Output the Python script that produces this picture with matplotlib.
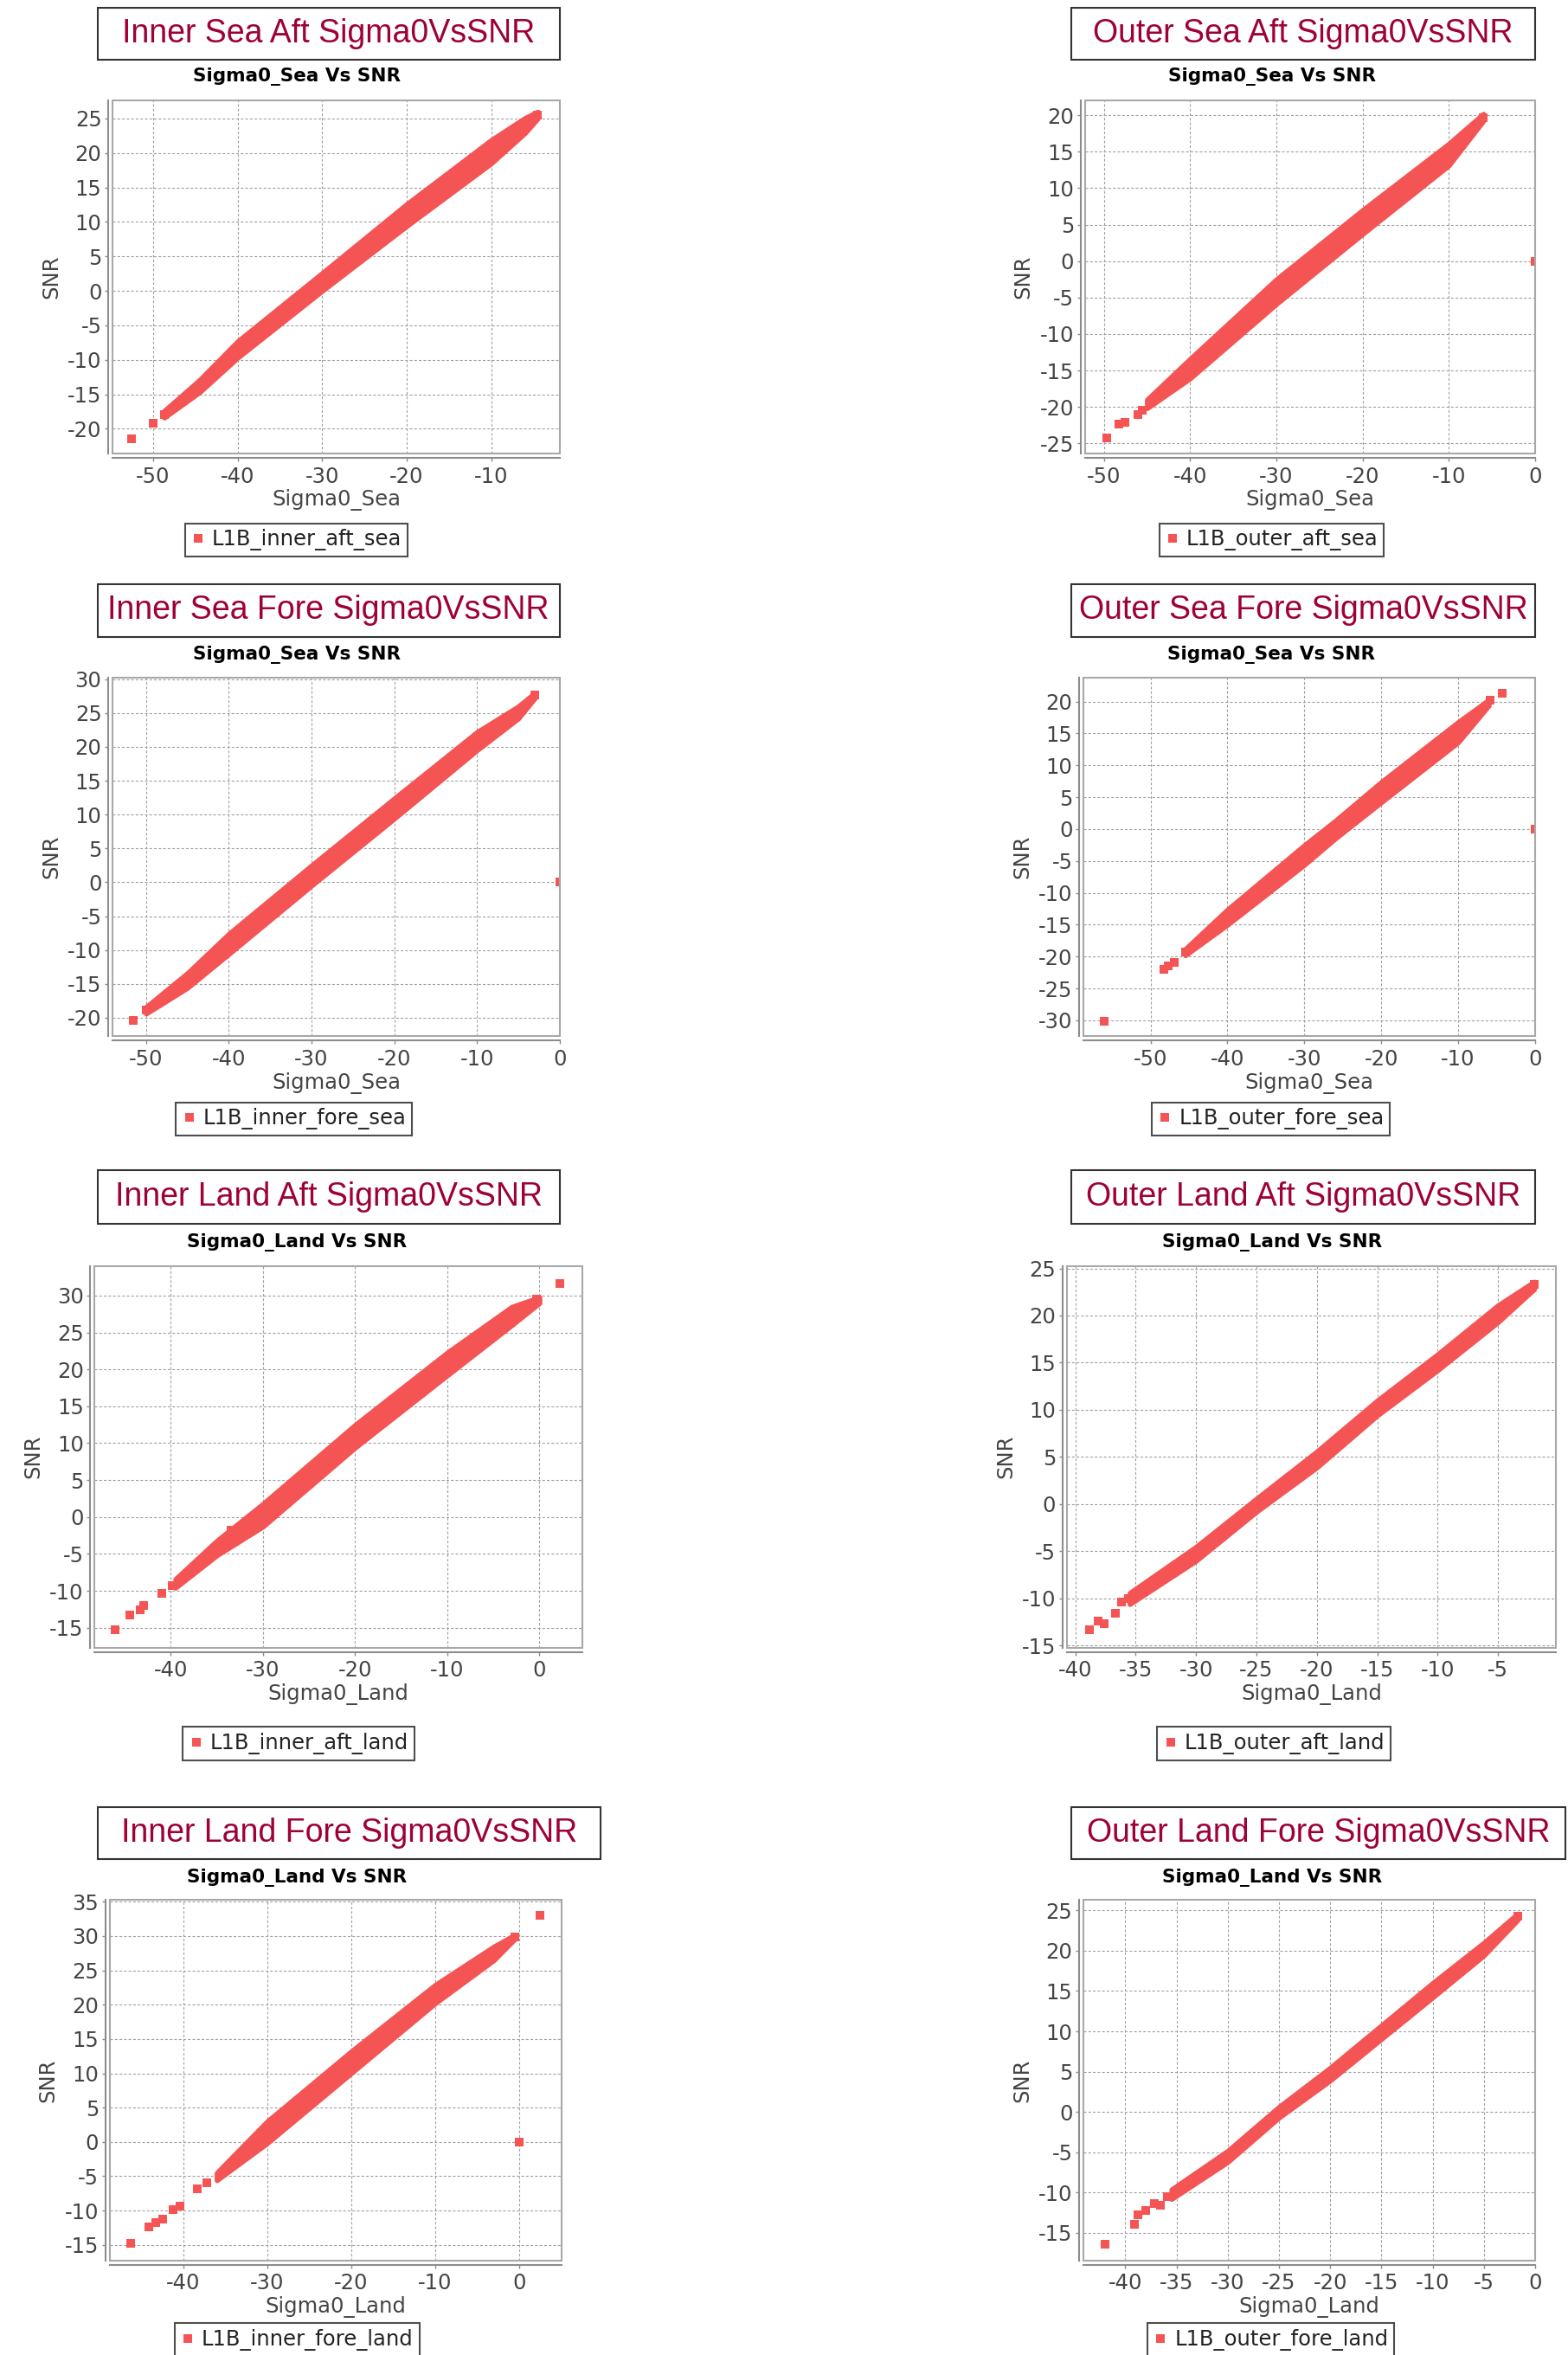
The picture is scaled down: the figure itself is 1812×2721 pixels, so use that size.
import matplotlib
matplotlib.use('Agg')
import matplotlib.pyplot as plt
from matplotlib.patches import Rectangle
from matplotlib.lines import Line2D

plt.rcParams['axes.unicode_minus'] = False
plt.rcParams['lines.scale_dashes'] = False

# ---- data (band edges + isolated points) ----

# Inner Sea Aft
ias_band_x = [-48.7, -44.5, -40, -30, -20, -10, -6, -4.5]
ias_band_hi = [-17.4, -12.9, -7.3, 2.6, 12.6, 21.9, 25.1, 26.0]
ias_band_lo = [-18.4, -14.7, -9.7, 0.0, 9.4, 18.5, 22.9, 25.0]
ias_pts_x = [-52.6, -50.0, -48.7, -4.5]
ias_pts_y = [-21.5, -19.2, -17.9, 25.5]

# Outer Sea Aft
osa_band_x = [-45, -40, -30, -20, -10, -6]
osa_band_hi = [-19.0, -13.4, -2.5, 7.0, 16.1, 20.2]
osa_band_lo = [-20.2, -16.1, -5.9, 3.7, 13.1, 19.2]
osa_pts_x = [-49.7, -48.3, -47.6, -46.0, -45.5, -6.0, 0.0]
osa_pts_y = [-24.2, -22.4, -22.1, -21.1, -20.5, 19.7, 0.0]

# Inner Sea Fore
isf_band_x = [-50, -45, -40, -30, -20, -10, -5, -3]
isf_band_hi = [-18.4, -13.4, -7.6, 2.5, 12.4, 22.2, 26.0, 28.0]
isf_band_lo = [-19.4, -15.6, -10.6, -0.5, 9.4, 19.5, 24.2, 27.2]
isf_pts_x = [-51.5, -50.0, -3.0, 0.0]
isf_pts_y = [-20.4, -18.9, 27.7, 0.0]

# Outer Sea Fore
osf_band_x = [-45.5, -40, -30, -26, -20, -10, -6]
osf_band_hi = [-18.8, -12.6, -2.5, 1.3, 7.4, 16.8, 20.3]
osf_band_lo = [-19.8, -15.0, -5.6, -1.5, 4.2, 13.6, 19.4]
osf_pts_x = [-56.0, -48.3, -47.7, -46.9, -45.5, -5.8, -4.3, 0.0]
osf_pts_y = [-30.1, -22.0, -21.5, -20.9, -19.3, 20.2, 21.3, 0.0]

# Inner Land Aft
ila_band_x = [-39.5, -35, -30, -20, -10, -3, 0]
ila_band_hi = [-8.4, -3.2, 1.8, 12.5, 22.3, 28.5, 29.8]
ila_band_lo = [-9.6, -5.2, -1.3, 9.4, 19.2, 26.0, 29.0]
ila_pts_x = [2.2, -46.0, -44.4, -43.3, -42.9, -41.0, -39.8, -36.0, -33.5, -0.3]
ila_pts_y = [31.6, -15.3, -13.3, -12.6, -12.0, -10.3, -9.3, -5.3, -1.8, 29.5]

# Outer Land Aft
ola_band_x = [-35.5, -30, -25, -20, -15, -10, -5, -2]
ola_band_hi = [-9.4, -4.5, 0.6, 5.6, 11.0, 15.9, 21.1, 23.6]
ola_band_lo = [-10.6, -6.0, -0.8, 3.9, 9.4, 14.2, 19.3, 22.8]
ola_pts_x = [-38.8, -38.1, -37.6, -36.7, -36.2, -35.6, -2.0]
ola_pts_y = [-13.3, -12.4, -12.7, -11.6, -10.4, -10.0, 23.3]

# Inner Land Fore
ilf_band_x = [-36, -30, -20, -10, -3, -0.5]
ilf_band_hi = [-4.5, 3.0, 13.2, 22.9, 28.5, 30.2]
ilf_band_lo = [-5.6, -0.2, 10.0, 20.2, 26.5, 29.6]
ilf_pts_x = [2.5, 0.0, -46.2, -44.1, -43.2, -42.4, -41.2, -40.4, -38.3, -37.2, -0.5]
ilf_pts_y = [33.0, 0.0, -14.8, -12.4, -11.8, -11.2, -9.8, -9.3, -6.8, -6.0, 29.9]

# Outer Land Fore
olf_band_x = [-35.5, -30, -25, -20, -10, -5, -1.7]
olf_band_hi = [-9.6, -4.8, 0.65, 5.5, 16.0, 21.0, 24.6]
olf_band_lo = [-10.8, -6.2, -0.7, 3.9, 14.2, 19.4, 23.8]
olf_pts_x = [-42.0, -39.1, -38.8, -38.0, -37.2, -36.6, -35.9, -1.65]
olf_pts_y = [-16.4, -13.9, -12.7, -12.2, -11.3, -11.6, -10.5, 24.3]

titles = ['Inner Sea Aft Sigma0VsSNR', 'Outer Sea Aft Sigma0VsSNR',
          'Inner Sea Fore Sigma0VsSNR', 'Outer Sea Fore Sigma0VsSNR',
          'Inner Land Aft Sigma0VsSNR', 'Outer Land Aft Sigma0VsSNR',
          'Inner Land Fore Sigma0VsSNR', 'Outer Land Fore Sigma0VsSNR']
legend_labels = ['L1B_inner_aft_sea', 'L1B_outer_aft_sea',
                 'L1B_inner_fore_sea', 'L1B_outer_fore_sea',
                 'L1B_inner_aft_land', 'L1B_outer_aft_land',
                 'L1B_inner_fore_land', 'L1B_outer_fore_land']
surface = ['Sea', 'Sea', 'Sea', 'Sea', 'Land', 'Land', 'Land', 'Land']

x_ticks = [range(-50, -9, 10), range(-50, 1, 10), range(-50, 1, 10), range(-50, 1, 10),
           range(-40, 1, 10), range(-40, -4, 5), range(-40, 1, 10), range(-40, 1, 5)]
y_ticks = [range(-20, 26, 5), range(-25, 21, 5), range(-20, 31, 5), range(-30, 21, 5),
           range(-15, 31, 5), range(-15, 26, 5), range(-15, 36, 5), range(-15, 26, 5)]

# ---- layout (in reference units, 1045 x 1568) ----
W, H = 1045.0, 1568.0
RED = '#F55454'
TITLE_RED = '#9E0038'
GRID = '#a0a0a0'
AXIS = '#8c8c8c'
TEXT = '#444444'

xlims = [(-54.8, -1.9), (-52.2, 0), (-54.05, 0), (-58.75, 0),
         (-48.27, 4.63), (-40.7, -0.2), (-48.75, 5.0), (-44.1, 0)]
ylims = [(-23.6, 27.6), (-26.4, 22.0), (-22.75, 30.27), (-32.5, 23.8),
         (-17.7, 34.0), (-15.2, 25.24), (-17.26, 35.27), (-18.4, 26.3)]
boxes = [(65, 5, 373, 40), (714, 5, 1023, 40), (65, 389, 373, 424), (714, 389, 1023, 424),
         (65, 779, 373, 815), (714, 779, 1023, 815), (65, 1203, 400, 1238), (714, 1203, 1043, 1238)]
subs = [(198, 51), (848, 51), (198, 436), (847, 436),
        (198, 827), (848, 827), (198, 1250), (848, 1250)]
plots = [(75, 67, 373, 302), (723, 67, 1023, 302), (75, 451, 373, 690), (722, 451, 1023, 690),
         (63, 843, 388, 1097), (711, 843, 1037, 1097), (73, 1265, 374, 1505), (722, 1265, 1023, 1505)]
legend_pos = [(197.5, 359.5), (847.5, 359.5), (196, 745), (847, 745),
              (199, 1161), (849, 1161), (198, 1558), (847, 1558)]

bands = [(ias_band_x, ias_band_lo, ias_band_hi, ias_pts_x, ias_pts_y),
         (osa_band_x, osa_band_lo, osa_band_hi, osa_pts_x, osa_pts_y),
         (isf_band_x, isf_band_lo, isf_band_hi, isf_pts_x, isf_pts_y),
         (osf_band_x, osf_band_lo, osf_band_hi, osf_pts_x, osf_pts_y),
         (ila_band_x, ila_band_lo, ila_band_hi, ila_pts_x, ila_pts_y),
         (ola_band_x, ola_band_lo, ola_band_hi, ola_pts_x, ola_pts_y),
         (ilf_band_x, ilf_band_lo, ilf_band_hi, ilf_pts_x, ilf_pts_y),
         (olf_band_x, olf_band_lo, olf_band_hi, olf_pts_x, olf_pts_y)]


def fx(x):
    return x / W


def fy(y):
    return 1 - y / H


fig = plt.figure(figsize=(18.12, 27.21), dpi=100)

for i in range(8):
    l, t, r, b = plots[i]
    ax = fig.add_axes([fx(l), fy(b), (r - l) / W, (b - t) / H])
    bx, lo, hi, px, py = bands[i]

    # dense cloud of square markers -> filled band, stroked to give marker width
    ax.fill_between(bx, lo, hi, facecolor=RED, edgecolor=RED, lw=4,
                    joinstyle='round', zorder=3)
    ax.plot(px, py, 's', color=RED, ms=7, mew=0, zorder=3)

    ax.set_xlim(*xlims[i])
    ax.set_ylim(*ylims[i])
    ax.set_xticks(list(x_ticks[i]))
    ax.set_yticks(list(y_ticks[i]))
    ax.set_axisbelow(True)
    ax.grid(True, color=GRID, lw=0.8, linestyle=(0, (2.2, 1.6)))

    # JFreeChart style: axis lines offset from the plot frame
    for s in ['top', 'right']:
        ax.spines[s].set_visible(False)
    for s in ['left', 'bottom']:
        ax.spines[s].set_position(('outward', 3.5))
        ax.spines[s].set_color(AXIS)
        ax.spines[s].set_linewidth(1.5)
    ax.add_patch(Rectangle((0, 0), 1, 1, transform=ax.transAxes, fill=False,
                           ec='#a8a8a8', lw=1.5, clip_on=False, zorder=5))
    ax.tick_params(direction='out', length=3, width=1, color=AXIS,
                   labelsize=17.5, labelcolor=TEXT)
    ax.tick_params(axis='x', pad=4)
    ax.tick_params(axis='y', pad=2.5)

    ax.set_xlabel('Sigma0_' + surface[i], fontsize=17.5, color=TEXT, labelpad=2)
    ax.set_ylabel('SNR', fontsize=17.5, color=TEXT, labelpad=5)

    # boxed title above each chart
    bl, bt, br, bb = boxes[i]
    fig.patches.append(Rectangle((fx(bl), fy(bb)), (br - bl) / W, (bb - bt) / H,
                                 transform=fig.transFigure, fill=False,
                                 ec='#333333', lw=1.5))
    fig.text(fx((bl + br) / 2), fy((bt + bb) / 2), titles[i], ha='center', va='center',
             fontsize=27, color=TITLE_RED, family='Liberation Sans')

    sx, sy = subs[i]
    fig.text(fx(sx), fy(sy), 'Sigma0_' + surface[i] + ' Vs SNR', ha='center', va='center',
             fontsize=15.5, weight='bold', color='black')

    handle = Line2D([], [], marker='s', ls='none', color=RED, ms=6.5, mew=0)
    lx, ly = legend_pos[i]
    leg = ax.legend([handle], [legend_labels[i]], loc='center',
                    bbox_to_anchor=(fx(lx), fy(ly)), bbox_transform=fig.transFigure,
                    frameon=True, fancybox=False, edgecolor='#222222', fontsize=17.5,
                    handlelength=0.7, handletextpad=0.3, borderpad=0.28,
                    borderaxespad=0, labelcolor='#222222')
    leg.get_frame().set_linewidth(1.5)

fig.savefig('out.png', dpi=100)
